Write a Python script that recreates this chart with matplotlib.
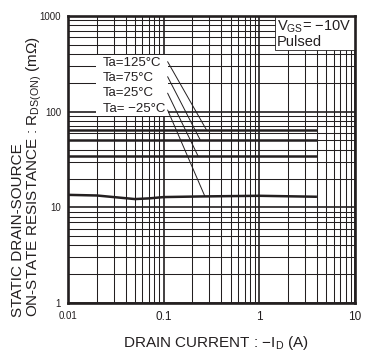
import matplotlib
matplotlib.use("Agg")
import matplotlib.pyplot as plt
from matplotlib.patches import Rectangle
from matplotlib.ticker import LogLocator, NullFormatter

plt.rcParams['font.family'] = ['Liberation Sans', 'DejaVu Sans']
plt.rcParams['mathtext.fontset'] = 'custom'
plt.rcParams['mathtext.rm'] = 'Liberation Sans'
plt.rcParams['mathtext.it'] = 'Liberation Sans:italic'
plt.rcParams['mathtext.bf'] = 'Liberation Sans:bold'

INK = '#231f20'

# ---- data ----
id_flat = [0.01, 0.1, 1, 4]
r_125 = [64.5, 64.5, 64.5, 64.5]
r_75 = [51, 51, 51, 51]
r_25 = [34, 34, 34, 34]
id_m25 = [0.01, 0.02, 0.03, 0.05, 0.07, 0.1, 0.25, 1, 4]
r_m25 = [13.5, 13.3, 12.8, 12.2, 12.4, 12.8, 13.0, 13.2, 12.9]

labels = ['Ta=125°C', 'Ta=75°C', 'Ta=25°C', 'Ta= \u221225°C']
leader_start_x = [0.11, 0.11, 0.11, 0.11]
leader_start_y = [333, 232, 156, 104]
leader_end_x = [0.28, 0.24, 0.23, 0.27]
leader_end_y = [64.5, 51, 34, 13.0]

xticks = [0.01, 0.1, 1, 10]
xticklabels = ['0.01', '0.1', '1', '10']
yticks = [1, 10, 100, 1000]
yticklabels = ['1', '10', '100', '1000']

fig = plt.figure(figsize=(3.65, 3.54), dpi=100)
ax = fig.add_axes([68/365, 51/354, 287/365, 287/354])
ax.set_xscale('log')
ax.set_yscale('log')
ax.set_xlim(0.01, 10)
ax.set_ylim(1, 1000)

# grid
ax.xaxis.set_minor_locator(LogLocator(base=10, subs=range(2, 10)))
ax.yaxis.set_minor_locator(LogLocator(base=10, subs=range(2, 10)))
ax.xaxis.set_minor_formatter(NullFormatter())
ax.yaxis.set_minor_formatter(NullFormatter())
ax.grid(which='major', color=INK, lw=1.2, zorder=0)
ax.grid(which='minor', color=INK, lw=0.75, zorder=0)
ax.set_axisbelow(True)
ax.tick_params(which='both', length=0)

ax.set_xticks(xticks)
ax.set_xticklabels(xticklabels, fontsize=8.5, color=INK)
ax.set_yticks(yticks)
ax.set_yticklabels(yticklabels, fontsize=7, color=INK,
                   family=['Liberation Sans Narrow', 'Liberation Sans'])
ax.tick_params(axis='x', pad=6)
ax.tick_params(axis='y', pad=5)
xl = ax.get_xticklabels()
xl[0].set_fontsize(7)
xl[0].set_family(['Liberation Sans Narrow', 'Liberation Sans'])

for s in ax.spines.values():
    s.set_linewidth(1.9)
    s.set_color(INK)
    s.set_zorder(5)

# curves
for r in (r_125, r_75, r_25):
    ax.plot(id_flat, r, color=INK, lw=1.8, zorder=3, solid_capstyle='butt')
ax.plot(id_m25, r_m25, color=INK, lw=1.8, zorder=3, solid_capstyle='butt')

# label boxes
ax.add_patch(Rectangle((0.0976, 0.652), 0.2504, 0.212, transform=ax.transAxes,
                       facecolor='white', edgecolor='none', zorder=2))
ax.add_patch(Rectangle((0.721, 0.8815), 0.279, 0.1185, transform=ax.transAxes,
                       facecolor='white', edgecolor=INK, lw=0.6, zorder=2))

label_y_px = [62.5, 78, 93.5, 109.5]
for lab, ypx in zip(labels, label_y_px):
    ax.text(0.121, 1 - (ypx - 16) / 287, lab, transform=ax.transAxes,
            fontsize=9.5, color=INK, ha='left', va='center', zorder=4)

for sx, sy, ex, ey in zip(leader_start_x, leader_start_y, leader_end_x, leader_end_y):
    ax.annotate('', xy=(ex, ey), xytext=(sx, sy),
                arrowprops=dict(arrowstyle='-', color=INK, lw=0.7,
                                shrinkA=0, shrinkB=0), zorder=4)

ax.text(0.728, 1 - (26.7 - 16) / 287, 'V$_{\\mathregular{GS}}$= \u221210V',
        transform=ax.transAxes, fontsize=10.5, color=INK, ha='left', va='center', zorder=4)
ax.text(0.728, 1 - (42 - 16) / 287, 'Pulsed',
        transform=ax.transAxes, fontsize=10.5, color=INK, ha='left', va='center', zorder=4)

# axis labels
fig.text(18/365, 37/354, 'STATIC DRAIN-SOURCE', rotation=90, ha='center', va='bottom',
         fontsize=11, color=INK)
fig.text(34.5/365, 37/354, 'ON-STATE RESISTANCE : R$_{\\mathregular{DS(ON)}}$ (m\u03a9)',
         rotation=90, ha='center', va='bottom', fontsize=11, color=INK)
fig.text(216/365, 11/354, 'DRAIN CURRENT : \u2212I$_{\\mathregular{D}}$ (A)',
         ha='center', va='center', fontsize=11, color=INK)

fig.savefig('out.png', dpi=100, facecolor='white')
